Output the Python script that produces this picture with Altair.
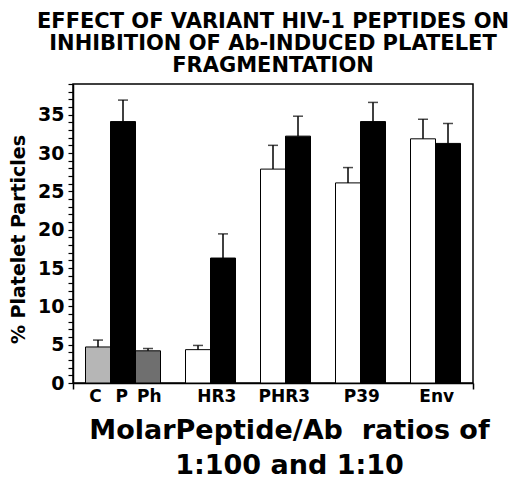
import altair as alt
import pandas as pd

# bar slots along the x axis (one unit per bar, empty slot between groups)
BAR_X = [1, 2, 3, 5, 6, 8, 9, 11, 12, 14, 15]
BAR_GROUP = ["C", "P", "Ph", "HR3", "HR3", "PHR3", "PHR3", "P39", "P39", "Env", "Env"]
BAR_RATIO = ["", "", "", "1:100", "1:10", "1:100", "1:10", "1:100", "1:10", "1:100", "1:10"]
BAR_VALUE = [4.7, 34.1, 4.2, 4.35, 16.3, 27.9, 32.2, 26.1, 34.1, 31.85, 31.25]
BAR_ERR_TOP = [5.6, 36.9, 4.5, 4.9, 19.45, 31.0, 34.8, 28.1, 36.6, 34.4, 33.85]
BAR_FILL = ["#b6b6b6", "#000000", "#6f6f6f", "#ffffff", "#000000", "#ffffff",
            "#000000", "#ffffff", "#000000", "#ffffff", "#000000"]

TICK_LABELS = ["C", "P", "Ph", "HR3", "PHR3", "P39", "Env"]
TICK_POS = [0.9, 1.95, 3.05, 5.75, 8.45, 11.55, 14.55]
Y_TICKS = list(range(0, 40))

TITLE = ["EFFECT OF VARIANT HIV-1 PEPTIDES ON",
         "INHIBITION OF Ab-INDUCED PLATELET",
         "FRAGMENTATION"]
X_TITLE = ["MolarPeptide/Ab\u00a0 ratios of", "1:100 and 1:10"]
Y_TITLE = "% Platelet Particles"

FONT = "DejaVu Sans"
W, H = 400, 299

bars = pd.DataFrame({
    "x": BAR_X, "group": BAR_GROUP, "ratio": BAR_RATIO,
    "value": BAR_VALUE, "err": BAR_ERR_TOP, "fill": BAR_FILL,
})
bars["x0"] = bars["x"] - 0.5
bars["x1"] = bars["x"] + 0.5
bars["zero"] = 0.0

labels = pd.DataFrame({"label": TICK_LABELS, "pos": TICK_POS})

x_scale = alt.Scale(domain=[0, 16], nice=False, zero=False)
y_scale = alt.Scale(domain=[0, 39], nice=False)

x_axis = alt.Axis(
    values=[0, 16], labels=False, grid=False, tickSize=6, tickWidth=1.5,
    tickColor="black", domainColor="black", domainWidth=1.5,
    title=X_TITLE, titleFont=FONT, titleFontSize=27, titleFontWeight="bold",
    titleColor="black", titleLineHeight=35, titleX=216, titleY=55,
    titleAlign="center", titleBaseline="alphabetic", titleAnchor="start",
)
y_axis = alt.Axis(
    values=Y_TICKS, grid=False, ticks=True, tickSize=5, tickWidth=1.2,
    tickColor="black", domainColor="black", domainWidth=1.5,
    labelExpr="datum.value % 5 === 0 && datum.value <= 35 ? datum.label : ''",
    labelOverlap=False, labelBound=False, labelFlush=False,
    labelFont=FONT, labelFontSize=19, labelFontWeight="bold", labelColor="black",
    labelPadding=4,
    title=Y_TITLE, titleFont=FONT, titleFontSize=19, titleFontWeight="bold",
    titleColor="black", titleAngle=-90, titleX=-49, titleY=155,
    titleAlign="center", titleBaseline="alphabetic",
)


def xq(field):
    return alt.X(field, type="quantitative", scale=x_scale, axis=x_axis)


def yq(field):
    return alt.Y(field, type="quantitative", scale=y_scale, axis=y_axis)


base = alt.Chart(bars)

rect = base.mark_bar(stroke="black", strokeWidth=1).encode(
    x=xq("x0"),
    x2="x1:Q",
    y=yq("zero"),
    y2="value:Q",
    fill=alt.Color("fill:N", scale=None, legend=None),
    tooltip=["group:N", "ratio:N", "value:Q"],
)

err_line = base.mark_rule(color="black", strokeWidth=1.5).encode(
    x=xq("x"), y=yq("value"), y2="err:Q"
)
err_cap = base.mark_tick(color="black", thickness=1.5, size=10,
                         orient="horizontal").encode(x=xq("x"), y=yq("err"))

tick_text = alt.Chart(labels).mark_text(
    font=FONT, fontSize=17, fontWeight="bold", color="black",
    baseline="middle", align="center",
).encode(x=xq("pos"), y=alt.value(H + 14), text="label:N")

chart = (rect + err_line + err_cap + tick_text).properties(
    width=W, height=H,
    autosize=alt.AutoSizeParams(type="none"),
    padding={"left": 65, "top": 76, "right": 39, "bottom": 96},
    title=alt.TitleParams(
        TITLE, anchor="middle", frame="group", font=FONT, fontSize=21,
        fontWeight="bold", color="black", lineHeight=22, offset=-1,
    ),
).configure_view(stroke="black", strokeWidth=1.5)

chart.save("out.html", embed_options={"renderer": "svg", "actions": False})
